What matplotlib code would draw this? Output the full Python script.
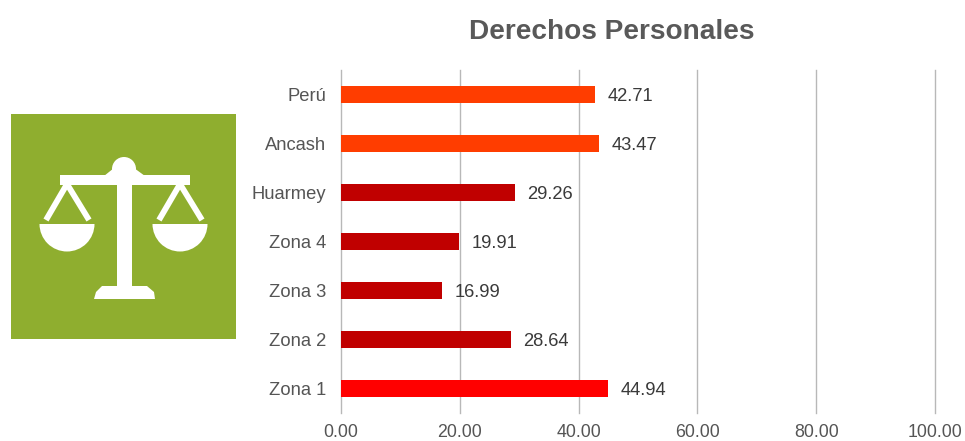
import matplotlib
matplotlib.use("Agg")
import matplotlib.pyplot as plt
from matplotlib.patches import Rectangle, Circle, Polygon, Wedge

plt.rcParams['font.family'] = ['Liberation Sans', 'DejaVu Sans']

categories = ["Perú", "Ancash", "Huarmey", "Zona 4", "Zona 3", "Zona 2", "Zona 1"]
values = [42.71, 43.47, 29.26, 19.91, 16.99, 28.64, 44.94]
bar_colors = ["#FF3D00", "#FF3D00", "#C00000", "#C00000", "#C00000", "#C00000", "#FF0000"]
x_ticks = [0, 20, 40, 60, 80, 100]
title = "Derechos Personales"

W, H = 965, 441
fig = plt.figure(figsize=(W / 100, H / 100), dpi=100, facecolor="white")

# chart
ax = fig.add_axes([341 / W, 1 - 413 / H, (935 - 341) / W, (413 - 70) / H])
positions = list(range(len(categories)))
ax.barh(positions, values, height=0.35, color=bar_colors, zorder=3)
ax.set_ylim(len(categories) - 0.5, -0.5)
ax.set_xlim(0, 100)
ax.set_yticks(positions, categories)
ax.set_xticks(x_ticks, [f"{t:.2f}" for t in x_ticks])
ax.grid(axis="x", color="#B8B8B8", linewidth=1.0, zorder=0, clip_on=False)
ax.set_axisbelow(True)
for s in ax.spines.values():
    s.set_visible(False)
ax.tick_params(axis="both", length=0)
ax.tick_params(axis="y", labelsize=13.2, labelcolor="#555555", pad=10.5)
ax.tick_params(axis="x", labelsize=12.8, labelcolor="#555555", pad=8)
for p, v in zip(positions, values):
    ax.annotate(f"{v:.2f}", xy=(v, p), xytext=(9, -1.5), textcoords="offset points",
                va="center", ha="left", fontsize=13.2, color="#3A3A3A", zorder=4)

fig.text(612 / W, 1 - 32 / H, title, ha="center", va="center",
         fontsize=20.2, fontweight="bold", color="#595959")

# decorative icon, in pixel coordinates of the figure
ic = fig.add_axes([0, 0, 1, 1], facecolor="none")
ic.set_xlim(0, W)
ic.set_ylim(H, 0)
ic.axis("off")
ic.add_patch(Rectangle((11, 114), 225, 225, color="#8FAE2F", lw=0))
white = "#FFFFFF"
ic.add_patch(Rectangle((117, 178), 15, 110, color=white, lw=0))
ic.add_patch(Rectangle((60, 175), 130, 10, color=white, lw=0))
ic.add_patch(Circle((124, 169), 12, color=white, lw=0))
ic.add_patch(Polygon([(104, 176), (145, 176), (134, 168), (114, 168)], color=white, lw=0))
ic.add_patch(Polygon([(94, 299), (155, 299), (154, 292), (147, 286), (102, 286), (96, 292)],
                     color=white, lw=0))
for cx in (67, 180):
    ic.add_patch(Wedge((cx, 224), 27.5, 0, 180, color=white, lw=0))
    ic.plot([cx, cx - 21], [184, 220], color=white, lw=4.2, solid_capstyle="butt")
    ic.plot([cx, cx + 22], [184, 220], color=white, lw=4.2, solid_capstyle="butt")

fig.savefig("out.png", dpi=100)
